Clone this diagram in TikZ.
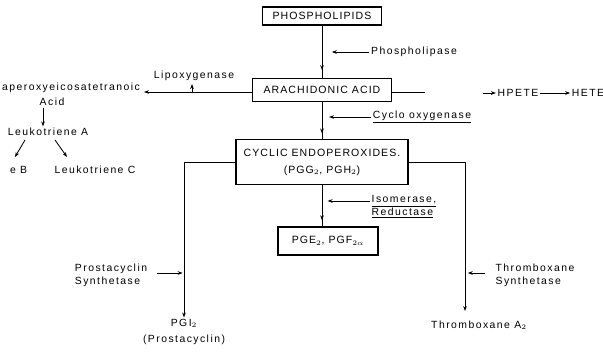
\documentclass[tikz,border=0pt]{standalone}
\usepackage{fontspec}
\setmainfont[LetterSpace=10]{Liberation Sans}
\newfontfamily\spacedfont[LetterSpace=14]{Liberation Sans}
\usepackage{amsmath}
\usetikzlibrary{arrows.meta,decorations.markings}

\tikzset{
  box/.style={rectangle, draw, line width=0.8pt, inner sep=2pt, font=\fontsize{7.5}{9}\selectfont},
  lbl/.style={inner sep=1pt, font=\spacedfont\fontsize{7.4}{9.4}\selectfont},
  tip/.style={-{Stealth[length=3.5pt,width=2.6pt]}},
  midtip/.style={postaction={decorate}, decoration={markings,
      mark=at position #1 with {\arrow{Stealth[length=3.5pt,width=2.6pt]}}}},
}

\begin{document}
\begin{tikzpicture}[x=0.025cm, y=-0.025cm, line width=0.6pt]
\useasboundingbox (0,0) rectangle (603,352);
\clip (0,0) rectangle (603,352);

% boxes of the main chain
\node[box, minimum width=119*0.025cm, minimum height=18*0.025cm] (phos) at (322,16) {PHOSPHOLIPIDS};
\node[box, minimum width=139*0.025cm, minimum height=23*0.025cm] (ara) at (322,90) {ARACHIDONIC ACID};
\node[box, minimum width=172*0.025cm, minimum height=45*0.025cm, align=center] (cyc) at (322,162)
  {CYCLIC ENDOPEROXIDES.\\[3pt] (PGG$_2$, PGH$_2$)};
\node[box, minimum width=100*0.025cm, minimum height=28*0.025cm] (pge) at (328,241) {PGE$_2$, PGF$_{2\alpha}$};

% end products
\node[lbl, align=center] (pgi) at (184,332) {PGI$_2$\\[2pt](Prostacyclin)};
\node[lbl] (thx) at (479,325) {Thromboxane A$_2$};
\node[lbl] (hpete) at (518,93) {HPETE};
\node[lbl] (hete) at (588,93) {HETE};

% lipoxygenase side
\node[lbl] (hpea) at (71,88) {aperoxyeicosatetranoic};
\node[lbl] (acid) at (52,102) {Acid};
\node[lbl] (leuA) at (48,132) {Leukotriene A};
\node[lbl, anchor=east] (leuB) at (29,170) {e B};
\node[lbl] (leuC) at (95,170) {Leukotriene C};

% enzymes
\node[lbl] (phl) at (414,52) {Phospholipase};
\node[lbl] (lipox) at (194,76) {Lipoxygenase};
\node[lbl] (cox) at (422,117) {\underline{Cyclo oxygenase}};
\node[lbl, align=left] (isom) at (404,207) {\underline{Isomerase,}\\\underline{Reductase}};
\node[lbl, align=left] (pcs) at (111,275) {Prostacyclin\\Synthetase};
\node[lbl, align=left] (txs) at (535,275) {Thromboxane\\Synthetase};

\coordinate (phlhit) at (322,52);
\coordinate (coxhit) at (322,117);
\coordinate (isomhit) at (322,201);
\coordinate (liphit) at (192,92);
\coordinate (hpeahit) at (144,92);
\coordinate (pcshit) at (184,273);
\coordinate (txshit) at (465,273);
\coordinate (araend) at (425,92);
\coordinate (hpin) at (483,93);
\coordinate (thxtop) at (465,311);
\coordinate (leuAl) at (25,140);
\coordinate (leuAr) at (55,140);
\coordinate (leuBt) at (15,157);
\coordinate (leuCt) at (67,157);

% main chain
\draw[midtip=0.85] (phos) -- (ara);
\draw[midtip=0.85] (ara) -- (cyc);
\draw[midtip=0.85] (cyc.south) -- (cyc.south |- pge.north);
\draw[tip] (ara.west |- liphit) -- (hpeahit);
\draw (ara.east |- araend) -- (araend);
\draw[tip] (hpin) -- (hpete.west);
\draw[tip] (hpete.east) -- (hete.west);

% branches
\draw[tip] (cyc.west) -| (pgi.north);
\draw[tip] (cyc.east) -| (thxtop);

% enzyme arrows
\draw[tip, shorten >=7pt] (phl.west) -- (phlhit);
\draw[tip, shorten >=5pt] (cox.west) -- (coxhit);
\draw[tip, shorten >=4pt] (isom.west |- isomhit) -- (isomhit);
\draw[tip, shorten >=1pt] (liphit) -- (lipox.south -| liphit);
\draw[tip, shorten <=6pt, shorten >=1pt] (pcs.east |- pcshit) -- (pcshit);
\draw[tip, shorten <=6pt, shorten >=2pt] (txs.west |- txshit) -- (txshit);

% leukotrienes
\draw[tip] (acid.south -| leuA.north) ++(-5,0) coordinate (acidb) -- (acidb |- leuA.north);
\draw[tip] (leuAl) -- (leuBt);
\draw[tip] (leuAr) -- (leuCt);

\end{tikzpicture}
\end{document}
